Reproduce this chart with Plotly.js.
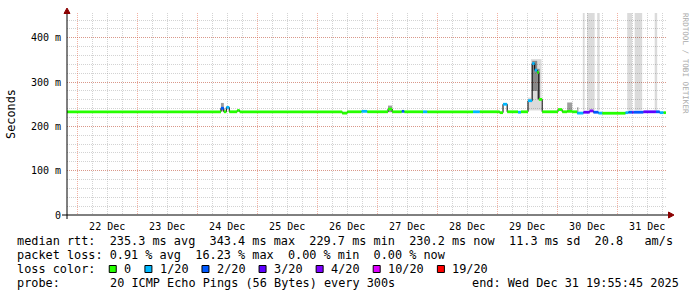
<!DOCTYPE html>
<html><head><meta charset="utf-8">
<script src="https://cdn.plot.ly/plotly-3.0.1.min.js"></script>
<style>html,body{margin:0;padding:0;background:#fff;}#chart{width:697px;height:297px;}</style>
</head><body><div id="chart"></div>
<script>
// ---- data ----
const medTime = ["2025-12-21 19:55","2025-12-24 09:30","2025-12-24 10:40","2025-12-24 11:40","2025-12-24 12:50",
 "2025-12-24 16:00","2025-12-24 17:00","2025-12-26 10:00","2025-12-26 12:00","2025-12-26 17:45","2025-12-26 20:00",
 "2025-12-27 04:20","2025-12-27 06:00","2025-12-27 09:50","2025-12-27 10:50","2025-12-27 18:20","2025-12-27 20:00",
 "2025-12-28 14:20","2025-12-28 17:00","2025-12-29 01:00","2025-12-29 02:20","2025-12-29 04:00","2025-12-29 08:20",
 "2025-12-29 09:30","2025-12-29 12:20","2025-12-29 14:00","2025-12-29 15:00","2025-12-29 16:00","2025-12-29 16:40",
 "2025-12-29 18:00","2025-12-30 00:20","2025-12-30 02:00","2025-12-30 04:00","2025-12-30 06:00","2025-12-30 08:00",
 "2025-12-30 10:30","2025-12-30 13:00","2025-12-30 14:30","2025-12-30 16:30","2025-12-30 18:00","2025-12-31 03:20",
 "2025-12-31 04:30","2025-12-31 06:00","2025-12-31 06:30","2025-12-31 10:30","2025-12-31 15:30","2025-12-31 17:00",
 "2025-12-31 18:30"];
const medEnd = "2025-12-31 19:30";
const medVal = [233,241,233,243,233,236,233,230,233,234,233,239,233,234,233,233,233,233,233,231,250,233,232,233,
 258,342,327,322,261,233,238,233,234,233,230,232,235,232,230,229.7,231,232,232,232,233,233,231,231];
const medLoss = [0,2,0,1,0,0,0,0,0,1,0,0,0,2,0,1,0,1,0,0,1,0,1,0,1,1,1,0,0,0,0,0,0,0,1,3,4,2,1,0,1,2,3,2,3,2,1,0];

const lightSmokeStart = ["2025-12-29 12:20","2025-12-29 13:30","2025-12-30 10:15","2025-12-30 12:00","2025-12-30 16:00",
 "2025-12-31 04:00","2025-12-31 07:00","2025-12-31 15:00"];
const lightSmokeEnd = ["2025-12-29 13:30","2025-12-29 17:45","2025-12-30 11:00","2025-12-30 15:00","2025-12-30 17:00",
 "2025-12-31 06:00","2025-12-31 10:00","2025-12-31 16:00"];
const lightSmokeLow = [236,236,236,236,236,236,236,236];
const lightSmokeHigh = [265,352,700,700,700,700,700,700];

const darkSmokeStart = ["2025-12-24 09:30","2025-12-27 04:20","2025-12-29 14:00","2025-12-29 16:00","2025-12-30 04:00","2025-12-30 08:00"];
const darkSmokeEnd = ["2025-12-24 10:40","2025-12-27 06:00","2025-12-29 16:00","2025-12-29 17:00","2025-12-30 06:00","2025-12-30 08:30"];
const darkSmokeLow = [234,232,280,262,233,233];
const darkSmokeHigh = [253,247,348,330,254,243];

const lossSteps = [0,1,2,3,4,10,19];
const lossLabels = ["0","1/20","2/20","3/20","4/20","10/20","19/20"];
const yTickVals = [0,100,200,300,400];
const yTickText = ["0","100 m","200 m","300 m","400 m"];
const statLine1 = "median rtt:  235.3 ms avg  343.4 ms max  229.7 ms min  230.2 ms now  11.3 ms sd  20.8   am/s";
const statLine2 = "packet loss: 0.91 % avg  16.23 % max  0.00 % min  0.00 % now";
const lossTitle = "loss color:";
const probeLabel = "probe:";
const probeText = "20 ICMP Echo Pings (56 Bytes) every 300s";
const endText = "end: Wed Dec 31 19:55:45 2025";
const rangeStart = "2025-12-21 19:55:45", rangeEnd = "2025-12-31 19:55:45";

// ---- styles ----
const lossColors = ['#26ff00','#00b8ff','#0059ff','#5e00ff','#7e00ff','#dd00ff','#ff0000'];
const MONO = 'DejaVu Sans Mono';
const ms = s => Date.parse(s.replace(' ','T') + ':00Z');
const L = 67, R = 667, T = 13, B = 215;
const pxX = p => (p - L) / (R - L);
const pxY = p => (B - p) / (B - T);
const CW = 7.134, FS = 11.85;
const colX = c => 16 + c * CW;
const nb = s => s.replace(/ /g, '\u00a0');

function smokeTrace(st, en, lo, hi, color) {
  const x = [], w = [], base = [], y = [];
  for (let i = 0; i < st.length; i++) {
    const a = ms(st[i]), b = ms(en[i]);
    x.push((a + b) / 2); w.push(b - a); base.push(lo[i]); y.push(hi[i] - lo[i]);
  }
  return {type:'bar', x, y, base, width:w, marker:{color, line:{width:0}}, hoverinfo:'skip', showlegend:false};
}

const traces = [];
traces.push(smokeTrace(lightSmokeStart, lightSmokeEnd, lightSmokeLow, lightSmokeHigh, 'rgba(0,0,0,0.14)'));
traces.push(smokeTrace(darkSmokeStart, darkSmokeEnd, darkSmokeLow, darkSmokeHigh, 'rgba(0,0,0,0.38)'));

const tx = medTime.map(ms).concat([ms(medEnd)]);
traces.push({type:'scatter', mode:'lines', x: tx, y: medVal.concat([medVal[medVal.length-1]]),
  line:{shape:'hv', color:'#000', width:1}, hoverinfo:'skip', showlegend:false});

lossSteps.forEach((lv, k) => {
  const x = [], y = [];
  for (let i = 0; i < medTime.length; i++) {
    if (medLoss[i] !== lv) continue;
    x.push(tx[i], tx[i+1], null); y.push(medVal[i], medVal[i], null);
  }
  if (x.length) traces.push({type:'scatter', mode:'lines', x, y, connectgaps:false,
    line:{color: lossColors[k], width:2.8}, hoverinfo:'skip', showlegend:false});
});

const gridMajor = 'rgba(224,80,48,0.45)', gridMinor = 'rgba(120,120,120,0.33)';
const annotations = [];
const txt = (text, px, py, opts={}) => annotations.push(Object.assign({
  text: nb(text), xref:'paper', yref:'paper', x: pxX(px), y: pxY(py), xanchor:'left', yanchor:'middle',
  showarrow:false, borderpad:0, font:{family:MONO, size:FS, color:'#000'}}, opts));

txt(statLine1, colX(0), 241);
txt(statLine2, colX(0), 255);
txt(lossTitle, colX(0), 269);
txt(probeLabel, colX(0), 283);
txt(probeText, colX(13), 283);
txt(endText, 680, 283, {xanchor:'right'});
txt('Seconds', 11, 114, {xanchor:'center', textangle:-90});
txt('RRDTOOL / TOBI OETIKER', 686, 63, {xanchor:'center', textangle:90, font:{family:MONO, size:7.6, color:'#aaaaaa'}});

const shapes = [];
let col = 13;
lossLabels.forEach((lab, k) => {
  const x0 = colX(col);
  shapes.push({type:'rect', xref:'paper', yref:'paper', x0: pxX(x0+0.5), x1: pxX(x0+7.5), y0: pxY(265.5), y1: pxY(272.5),
    fillcolor: lossColors[k], line:{color:'#000', width:1}, layer:'above'});
  txt(lab, colX(col+2), 269);
  col += 2 + lab.length + 2;
});
// axis lines and arrows
shapes.push({type:'line', xref:'paper', yref:'paper', x0:pxX(62), x1:pxX(670), y0:pxY(215), y1:pxY(215), line:{color:'#000', width:1}, layer:'above'});
shapes.push({type:'line', xref:'paper', yref:'paper', x0:pxX(67), x1:pxX(67), y0:pxY(219), y1:pxY(11), line:{color:'#000', width:1}, layer:'above'});
shapes.push({type:'path', xref:'paper', yref:'paper', layer:'above', fillcolor:'#8b0000', line:{color:'#8b0000', width:1},
  path:`M ${pxX(67)} ${pxY(8)} L ${pxX(64)} ${pxY(13.5)} L ${pxX(70)} ${pxY(13.5)} Z`});
shapes.push({type:'path', xref:'paper', yref:'paper', layer:'above', fillcolor:'#8b0000', line:{color:'#8b0000', width:1},
  path:`M ${pxX(674)} ${pxY(215)} L ${pxX(668.5)} ${pxY(212)} L ${pxX(668.5)} ${pxY(218)} Z`});

const layout = {
  width:697, height:297, autosize:false,
  margin:{l:L, r:697-R, t:T, b:297-B, pad:0},
  paper_bgcolor:'#fff', plot_bgcolor:'#fff',
  barmode:'overlay', showlegend:false,
  xaxis:{type:'date', range:[rangeStart, rangeEnd], tick0:'2025-12-22', dtick:86400000,
    ticklabelmode:'period', tickformat:'%d %b', ticks:'', ticklabelstandoff:4,
    tickfont:{family:MONO, size:10, color:'#000'},
    showgrid:true, gridcolor:gridMajor, griddash:'1px,1px', gridwidth:1,
    minor:{dtick:21600000, tick0:'2025-12-22', showgrid:true, gridcolor:gridMinor, griddash:'1px,1px', gridwidth:1, ticks:''},
    zeroline:false, showline:false, fixedrange:true},
  yaxis:{range:[0,456], tickvals:yTickVals, ticktext:yTickText, ticks:'', ticklabelstandoff:5,
    tickfont:{family:MONO, size:10, color:'#000'},
    showgrid:true, gridcolor:gridMajor, griddash:'1px,1px', gridwidth:1,
    minor:{dtick:20, tick0:0, showgrid:true, gridcolor:gridMinor, griddash:'1px,1px', gridwidth:1, ticks:''},
    zeroline:false, showline:false, fixedrange:true},
  annotations, shapes
};
Plotly.newPlot('chart', traces, layout, {staticPlot:true, displayModeBar:false});
</script></body></html>
